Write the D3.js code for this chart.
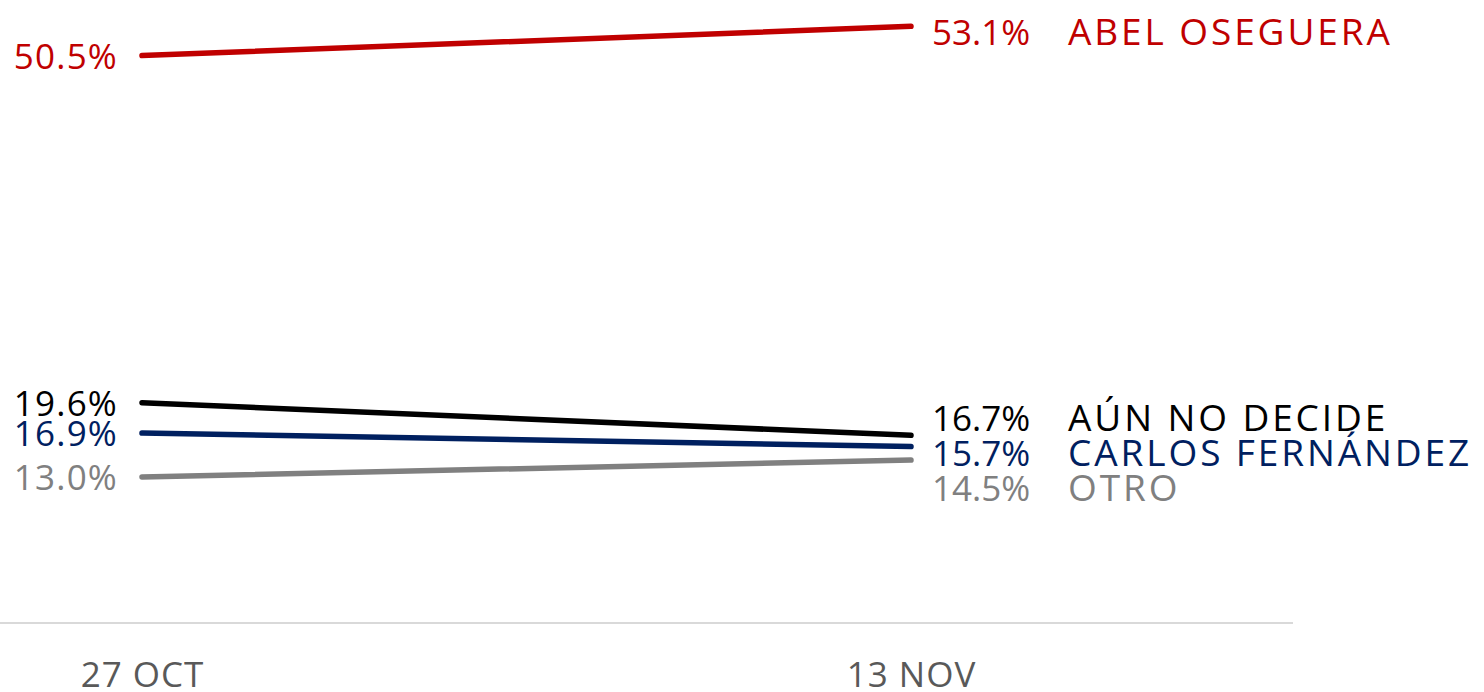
<!DOCTYPE html>
<html>
<head>
<meta charset="utf-8">
<script src="https://cdn.jsdelivr.net/npm/d3@7"></script>
<style>
  html, body { margin: 0; padding: 0; background: #fff; }
  #chart { width: 1484px; height: 692px; }
  text { font-family: "Open Sans", "Noto Sans", sans-serif; }
</style>
</head>
<body>
<div id="chart"></div>
<script>
const dates = ['27 OCT', '13 NOV'];
const names = ['ABEL OSEGUERA', 'AÚN NO DECIDE', 'CARLOS FERNÁNDEZ', 'OTRO'];
const colors = ['#c00000', '#000000', '#002060', '#808080'];
const abel = [50.5, 53.1];
const noDecide = [19.6, 16.7];
const carlos = [16.9, 15.7];
const otro = [13.0, 14.5];

const seriesVals = [abel, noDecide, carlos, otro];
const series = names.map((name, i) => ({
  name,
  color: colors[i],
  values: seriesVals[i].map((v, j) => ({ date: dates[j], v })),
}));

const W = 1484, H = 692;
const svg = d3.select('#chart').append('svg')
  .attr('width', W)
  .attr('height', H)
  .attr('viewBox', `0 0 ${W} ${H}`);

const x = d3.scalePoint().domain(dates).range([142, 911]);
const y = d3.scaleLinear().domain([0, 55]).range([623, 5]);

// baseline
svg.append('line')
  .attr('x1', 0).attr('x2', 1293)
  .attr('y1', y(0)).attr('y2', y(0))
  .attr('stroke', '#d9d9d9')
  .attr('stroke-width', 2);

// x axis labels
const xAxis = svg.append('g')
  .attr('transform', `translate(0,${y(0)})`)
  .call(d3.axisBottom(x).tickSize(0).tickPadding(64));
xAxis.select('.domain').remove();
xAxis.selectAll('text')
  .attr('font-family', '"Open Sans", sans-serif')
  .attr('font-size', 35)
  .attr('letter-spacing', 1)
  .attr('fill', '#595959')
  .attr('dy', 0);

const line = d3.line().x(d => x(d.date)).y(d => y(d.v));

svg.selectAll('.series')
  .data(series)
  .join('path')
  .attr('class', 'series')
  .attr('d', d => line(d.values))
  .attr('fill', 'none')
  .attr('stroke', d => d.color)
  .attr('stroke-width', 5.5)
  .attr('stroke-linecap', 'round');

// spread labels so they don't overlap
function spread(items, gap) {
  items.sort((a, b) => a.y - b.y);
  for (let iter = 0; iter < 50; iter++) {
    let moved = false;
    for (let i = 1; i < items.length; i++) {
      const a = items[i - 1], b = items[i];
      const d = b.y - a.y;
      if (d < gap) {
        const shift = (gap - d) / 2;
        a.y -= shift; b.y += shift;
        moved = true;
      }
    }
    if (!moved) break;
  }
  return items;
}

const fmt = v => d3.format('.1f')(v) + '%';

// left labels
const left = series.map(s => ({ s, v: s.values[0].v, y: y(s.values[0].v) }));
spread(left, 30);
svg.selectAll('.lbl-left')
  .data(left)
  .join('text')
  .attr('class', 'lbl-left')
  .attr('x', 118)
  .attr('y', d => d.y)
  .attr('dy', '0.38em')
  .attr('text-anchor', 'end')
  .attr('font-size', 35)
  .attr('letter-spacing', 1.2)
  .attr('fill', d => d.s.color)
  .text(d => fmt(d.v));

// right labels
const right = series.map(s => ({ s, v: s.values[1].v, y: y(s.values[1].v) }));
spread(right, 35);
const rg = svg.selectAll('.lbl-right')
  .data(right)
  .join('g')
  .attr('class', 'lbl-right')
  .attr('transform', d => `translate(0,${d.y + 5})`);
rg.append('text')
  .attr('x', 932)
  .attr('dy', '0.38em')
  .attr('font-size', 35)
  .attr('letter-spacing', 0)
  .attr('fill', d => d.s.color)
  .text(d => fmt(d.v));
rg.append('text')
  .attr('x', 1068)
  .attr('dy', '0.38em')
  .attr('font-size', 37)
  .attr('letter-spacing', 2.9)
  .attr('fill', d => d.s.color)
  .text(d => d.s.name);
</script>
</body>
</html>
